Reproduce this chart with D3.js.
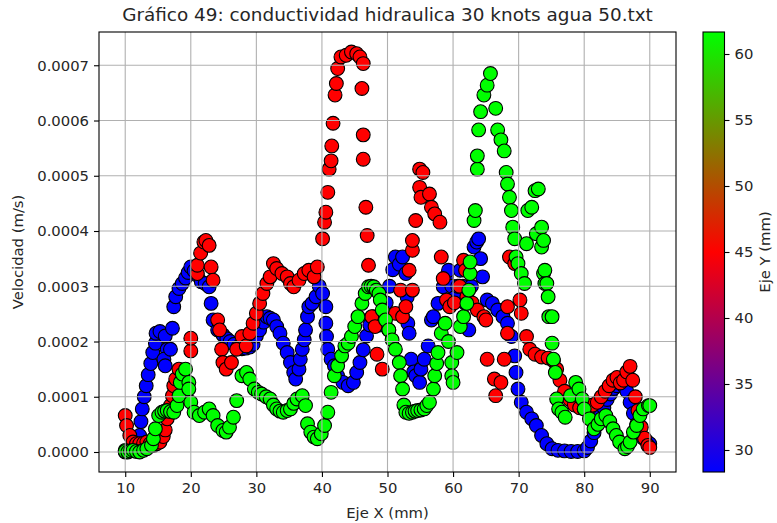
<!DOCTYPE html>
<html>
<head>
<meta charset="utf-8">
<script src="https://cdn.jsdelivr.net/npm/d3@7"></script>
<style>
  body { margin: 0; background: #fff; }
  text { font-family: "DejaVu Sans", sans-serif; fill: #262626; }
</style>
</head>
<body>
<div id="chart"></div>
<script>
"use strict";

/* ── Data: [Eje X (mm), velocidad in 1e-4 m/s] per Eje Y level ── */
const ejeY = [28.333, 45.0, 61.667];

const puntosAzul = [
  [10.0,0.0],[10.5,0.02],[11.0,0.03],[11.5,0.06],[12.0,0.12],[12.2,0.3],[12.4,0.55],[12.6,0.78],
  [12.9,1.0],[13.2,1.2],[13.5,1.4],[13.9,1.6],[14.2,1.8],[14.6,1.97],[14.7,2.15],[15.3,2.18],
  [16.1,2.1],[16.4,1.86],[15.9,1.68],[16.1,1.56],[16.9,1.86],[17.2,2.24],[17.4,2.63],[17.7,2.81],
  [18.2,2.96],[18.7,3.05],[19.2,3.15],[19.6,3.25],[20.0,3.35],[20.5,3.28],[21.0,3.2],[21.6,3.08],
  [22.2,3.05],[22.8,2.99],[23.1,2.69],[23.4,2.39],[24.1,2.21],[24.9,2.12],[25.5,2.05],[26.0,2.0],
  [26.6,1.95],[27.2,1.9],[27.8,1.87],[28.4,1.88],[29.0,1.9],[29.5,1.95],[30.0,2.1],[30.5,2.21],
  [31.1,2.35],[31.6,2.45],[32.1,2.42],[32.6,2.39],[33.1,2.27],[33.6,2.15],[34.1,1.97],[34.7,1.8],
  [35.2,1.62],[35.7,1.44],[36.0,1.32],[36.5,1.5],[36.7,1.68],[37.0,1.86],[37.3,2.03],[37.5,2.21],
  [37.8,2.45],[38.0,2.63],[38.5,2.69],[39.1,2.81],[39.6,3.0],[40.1,2.87],[40.6,2.63],[40.6,2.33],
  [40.7,2.09],[40.9,1.86],[41.4,1.68],[41.9,1.56],[42.4,1.38],[43.2,1.26],[44.0,1.2],[44.8,1.26],
  [45.3,1.44],[45.8,1.62],[46.3,1.85],[46.8,2.1],[47.3,2.3],[47.8,2.45],[48.3,2.4],[48.8,2.3],
  [49.3,2.4],[49.8,2.7],[50.3,3.0],[50.8,3.3],[51.2,3.53],[51.8,3.4],[52.3,3.53],[52.8,3.23],
  [53.0,2.8],[53.1,2.33],[53.3,2.15],[53.6,1.68],[54.0,1.45],[54.3,1.38],[54.9,1.26],[55.1,1.5],
  [55.6,1.68],[56.2,1.92],[56.7,2.39],[57.0,2.45],[57.7,2.69],[58.5,2.99],[59.0,3.17],[59.3,3.29],
  [59.8,3.0],[60.3,2.8],[60.7,3.0],[61.1,3.29],[61.5,3.0],[61.9,2.69],[62.4,2.21],[62.8,3.0],
  [63.2,3.71],[63.6,3.8],[63.9,3.86],[64.2,3.5],[64.5,3.17],[65.2,2.75],[66.0,2.69],[66.8,2.57],
  [67.6,2.45],[68.3,2.33],[68.9,2.09],[69.4,1.74],[69.6,1.44],[69.9,1.14],[70.4,0.9],[71.2,0.72],
  [72.0,0.6],[72.7,0.48],[73.5,0.3],[74.3,0.15],[75.1,0.06],[76.0,0.03],[77.0,0.02],[78.0,0.01],
  [79.0,0.01],[80.0,0.02],[80.5,0.08],[81.0,0.2],[81.5,0.35],[82.0,0.5],[82.5,0.65],[83.0,0.8],
  [83.5,0.95],[84.0,1.05],[84.5,1.15],[85.0,1.2],[85.5,1.25],[86.0,1.2],[86.5,1.1],[87.0,0.9],
  [87.5,0.7],[88.0,0.5],[88.5,0.35],[89.0,0.25],[89.5,0.2],[90.0,0.15]
];

const puntosRojo = [
  [10.0,0.66],[10.2,0.48],[10.7,0.3],[11.2,0.18],[11.7,0.15],[12.2,0.15],[12.8,0.16],[13.3,0.18],
  [13.8,0.15],[14.3,0.12],[14.8,0.15],[15.3,0.18],[15.8,0.28],[16.1,0.4],[16.4,0.6],[16.9,0.84],
  [17.2,1.02],[17.4,1.2],[17.7,1.32],[18.2,1.5],[20.0,1.83],[20.0,2.06],[21.0,3.23],[21.0,3.38],
  [21.5,3.6],[22.0,3.8],[22.3,3.83],[22.8,3.74],[23.1,3.35],[23.4,3.11],[24.1,2.39],[24.4,2.21],
  [24.7,1.86],[24.9,1.62],[25.4,1.5],[26.2,1.62],[27.0,1.86],[27.8,2.09],[28.45,1.92],[29.0,2.15],
  [29.5,2.33],[30.0,2.51],[30.5,2.69],[31.0,2.87],[31.6,3.05],[32.1,3.17],[32.6,3.41],[33.1,3.32],
  [33.9,3.23],[34.7,3.17],[35.2,3.05],[35.7,2.99],[36.5,3.11],[37.3,3.23],[38.0,3.29],[38.8,3.17],
  [39.3,3.35],[40.1,3.86],[40.4,4.16],[40.6,4.34],[40.9,4.7],[41.1,5.12],[41.4,5.27],[41.5,5.54],
  [41.7,5.95],[42.0,6.46],[42.2,6.67],[42.4,6.94],[42.9,7.15],[43.7,7.18],[44.5,7.24],[45.3,7.21],
  [45.8,7.15],[46.3,7.03],[46.1,6.58],[46.3,5.74],[46.3,5.3],[46.7,4.43],[46.9,3.92],[47.1,3.38],
  [47.6,2.45],[48.1,2.27],[48.4,1.77],[49.2,1.5],[50.2,2.21],[51.2,2.51],[52.0,2.93],[52.3,2.45],
  [52.8,2.63],[53.3,3.29],[53.8,2.93],[53.8,3.65],[53.8,3.83],[54.3,4.19],[54.9,4.79],[54.9,5.12],
  [55.1,4.61],[55.4,5.06],[56.4,4.67],[56.7,4.43],[57.2,4.31],[58.0,4.16],[58.2,3.53],[58.5,3.14],
  [59.0,2.75],[59.5,2.63],[60.2,2.7],[61.0,3.0],[61.6,3.47],[61.9,3.29],[62.1,2.81],[62.9,2.7],
  [63.7,2.57],[64.7,2.45],[65.0,2.39],[65.2,1.68],[66.3,1.32],[66.5,1.02],[67.3,1.26],[67.8,1.68],
  [68.3,2.15],[68.3,2.63],[68.6,3.53],[69.4,3.41],[70.2,2.75],[70.4,2.51],[71.2,2.09],[71.7,1.86],
  [72.5,1.77],[73.5,1.72],[74.5,1.7],[75.3,1.65],[75.8,1.5],[76.3,1.3],[77.0,1.1],[77.8,0.95],
  [78.5,0.85],[79.3,0.8],[80.0,0.78],[80.7,0.8],[81.3,0.85],[82.0,0.9],[82.6,1.0],[83.2,1.1],
  [83.8,1.2],[84.4,1.3],[85.0,1.35],[85.5,1.25],[86.0,1.3],[86.5,1.45],[87.0,1.55],[87.4,1.3],
  [87.8,1.0],[88.2,0.75],[88.7,0.45],[89.2,0.25],[89.7,0.12],[90.0,0.08]
];

const puntosVerde = [
  [10.0,0.03],[10.0,0.01],[10.4,0.0],[10.8,0.02],[11.2,0.03],[11.7,0.01],[12.2,0.0],[12.8,0.03],
  [13.3,0.06],[14.0,0.12],[14.3,0.24],[14.6,0.42],[15.1,0.66],[15.6,0.72],[16.0,0.74],[16.4,0.75],
  [16.9,0.73],[17.4,0.72],[17.9,0.84],[18.2,1.02],[18.4,1.26],[18.7,1.41],[19.2,1.5],[19.7,1.26],
  [19.7,1.14],[20.0,0.9],[20.5,0.72],[21.3,0.66],[22.1,0.72],[22.8,0.78],[23.4,0.66],[24.1,0.48],
  [24.9,0.39],[25.4,0.36],[25.9,0.45],[26.5,0.63],[27.0,0.93],[27.8,1.38],[28.5,1.44],[29.0,1.32],
  [29.7,1.14],[30.3,1.08],[30.8,1.05],[31.5,1.0],[32.1,0.96],[32.6,0.85],[33.1,0.78],[33.6,0.74],
  [34.1,0.72],[34.7,0.75],[35.2,0.78],[35.7,0.88],[36.2,0.96],[37.0,1.02],[37.5,0.84],[37.8,0.51],
  [38.3,0.36],[38.8,0.27],[39.3,0.24],[39.9,0.33],[40.4,0.48],[40.9,0.72],[41.4,1.08],[41.9,1.38],
  [42.4,1.56],[43.0,1.74],[43.5,1.92],[44.0,1.97],[44.5,2.09],[45.0,2.27],[45.5,2.45],[46.1,2.69],
  [46.6,2.87],[47.1,2.99],[47.5,3.0],[47.9,2.99],[48.3,2.93],[48.7,2.87],[48.9,2.75],[49.2,2.57],
  [49.7,2.39],[50.2,2.21],[50.7,2.03],[51.2,1.86],[51.8,1.62],[52.0,1.38],[52.3,1.14],[52.5,0.85],
  [52.8,0.72],[53.3,0.7],[53.8,0.72],[54.2,0.74],[54.6,0.75],[55.1,0.76],[55.6,0.78],[56.0,0.84],
  [56.4,0.9],[57.0,1.14],[57.2,1.38],[57.5,1.6],[57.7,1.8],[58.2,2.15],[58.8,2.33],[59.3,2.0],
  [59.8,1.62],[59.8,1.38],[60.0,1.26],[60.6,1.8],[61.1,2.27],[61.6,2.45],[62.1,2.69],[62.4,2.93],
  [62.6,3.23],[62.6,3.44],[63.2,4.19],[63.4,4.37],[63.7,5.12],[63.7,5.36],[63.9,5.83],[64.2,6.16],
  [64.7,6.46],[65.2,6.64],[65.7,6.85],[66.5,6.22],[66.8,5.83],[67.3,5.65],[67.8,5.45],[68.1,5.06],
  [68.3,4.85],[68.6,4.61],[68.9,4.37],[69.1,4.07],[69.4,3.86],[69.6,3.53],[69.9,3.41],[70.4,3.23],
  [70.9,3.05],[71.2,3.77],[71.4,4.37],[72.0,4.43],[72.5,4.73],[73.0,4.76],[72.7,3.95],[73.5,3.71],
  [73.8,3.23],[74.0,3.05],[74.6,2.45],[73.5,4.07],[73.8,3.83],[74.0,3.29],[74.3,3.05],[74.5,2.81],
  [75.1,2.45],[75.1,1.97],[75.3,1.68],[75.6,1.44],[75.8,0.96],[76.1,0.78],[76.6,0.72],[77.1,0.63],
  [77.9,1.02],[78.7,1.26],[79.2,1.14],[79.7,0.96],[80.0,0.78],[80.8,0.6],[81.5,0.42],[82.1,0.5],
  [82.6,0.6],[83.3,0.66],[83.9,0.55],[84.4,0.42],[84.9,0.3],[85.4,0.18],[86.2,0.06],[86.6,0.1],
  [87.0,0.18],[87.5,0.36],[88.0,0.48],[88.5,0.66],[89.0,0.78],[89.8,0.84],[90.0,0.84]
];

const xTicks  = [10, 20, 30, 40, 50, 60, 70, 80, 90];
const yTicks  = [0, 0.0001, 0.0002, 0.0003, 0.0004, 0.0005, 0.0006, 0.0007];
const cbTicks = [30, 35, 40, 45, 50, 55, 60];

const titulo = "Gráfico 49: conductividad hidraulica 30 knots agua 50.txt";

/* ── Build rows ── */
const rows = [];
[puntosAzul, puntosRojo, puntosVerde].forEach((serie, i) => {
  serie.forEach(([x, v]) => rows.push({ x, v: v * 1e-4, y: ejeY[i] }));
});

/* ── Dimensions ── */
const W = 777, H = 523;
const plot = { left: 99, right: 676, top: 32, bottom: 472 };
const cb   = { left: 703, width: 21.5 };
const FS   = 14.8;
const TK   = 5;

const svg = d3.select("#chart").append("svg")
  .attr("width", W).attr("height", H);

/* ── Scales (5% margins like matplotlib) ── */
const pad = (ext) => { const m = (ext[1] - ext[0]) * 0.05; return [ext[0] - m, ext[1] + m]; };
const x = d3.scaleLinear(pad(d3.extent(rows, d => d.x)), [plot.left, plot.right]);
const y = d3.scaleLinear(pad(d3.extent(rows, d => d.v)), [plot.bottom, plot.top]);

const yExt = d3.extent(ejeY);
const colour = d3.scaleLinear()
  .domain([yExt[0], (yExt[0] + yExt[1]) / 2, yExt[1]])
  .range(["#0000ff", "#ff0000", "#00ff00"]);
const cbScale = d3.scaleLinear(yExt, [plot.bottom, plot.top]);

/* ── Points ── */
svg.append("g")
  .selectAll("circle")
  .data(rows)
  .join("circle")
  .attr("cx", d => x(d.x))
  .attr("cy", d => y(d.v))
  .attr("r", 6.9)
  .attr("fill", d => colour(d.y))
  .attr("stroke", "#000")
  .attr("stroke-width", 1.1);

/* ── Grid (matplotlib draws it over the scatter) ── */
const grid = svg.append("g").attr("stroke", "#b0b0b0").attr("stroke-width", 1.1);
grid.selectAll("line.gx").data(xTicks).join("line")
  .attr("x1", d => x(d)).attr("x2", d => x(d))
  .attr("y1", plot.top).attr("y2", plot.bottom);
grid.selectAll("line.gy").data(yTicks).join("line")
  .attr("y1", d => y(d)).attr("y2", d => y(d))
  .attr("x1", plot.left).attr("x2", plot.right);

/* ── Axes ── */
const xAxis = svg.append("g")
  .attr("transform", `translate(0,${plot.bottom})`)
  .call(d3.axisBottom(x).tickValues(xTicks).tickFormat(d3.format("d"))
    .tickSize(TK).tickPadding(TK));
const yAxis = svg.append("g")
  .attr("transform", `translate(${plot.left},0)`)
  .call(d3.axisLeft(y).tickValues(yTicks).tickFormat(d3.format(".4f"))
    .tickSize(TK).tickPadding(TK));

[xAxis, yAxis].forEach(g => {
  g.select(".domain").remove();
  g.selectAll("line").attr("stroke", "#000").attr("stroke-width", 1.1);
  g.selectAll("text").attr("font-size", FS).attr("font-family", "DejaVu Sans").attr("fill", "#262626");
});

svg.append("rect")
  .attr("x", plot.left).attr("y", plot.top)
  .attr("width", plot.right - plot.left).attr("height", plot.bottom - plot.top)
  .attr("fill", "none").attr("stroke", "#000").attr("stroke-width", 1.1);

/* ── Labels ── */
svg.append("text")
  .attr("x", (plot.left + plot.right) / 2).attr("y", 21)
  .attr("text-anchor", "middle").attr("font-size", 18.4)
  .text(titulo);

svg.append("text")
  .attr("x", (plot.left + plot.right) / 2).attr("y", 518)
  .attr("text-anchor", "middle").attr("font-size", FS)
  .text("Eje X (mm)");

svg.append("text")
  .attr("transform", `translate(23,${(plot.top + plot.bottom) / 2}) rotate(-90)`)
  .attr("text-anchor", "middle").attr("font-size", FS)
  .text("Velocidad (m/s)");

/* ── Colorbar ── */
const grad = svg.append("defs").append("linearGradient")
  .attr("id", "brg").attr("x1", 0).attr("y1", 1).attr("x2", 0).attr("y2", 0);
grad.selectAll("stop")
  .data(colour.domain())
  .join("stop")
  .attr("offset", d => (d - yExt[0]) / (yExt[1] - yExt[0]))
  .attr("stop-color", d => colour(d));

svg.append("rect")
  .attr("x", cb.left).attr("y", plot.top)
  .attr("width", cb.width).attr("height", plot.bottom - plot.top)
  .attr("fill", "url(#brg)").attr("stroke", "#000").attr("stroke-width", 1.1);

const cbAxis = svg.append("g")
  .attr("transform", `translate(${cb.left + cb.width},0)`)
  .call(d3.axisRight(cbScale).tickValues(cbTicks).tickFormat(d3.format("d"))
    .tickSize(TK).tickPadding(TK));
cbAxis.select(".domain").remove();
cbAxis.selectAll("line").attr("stroke", "#000").attr("stroke-width", 1.1);
cbAxis.selectAll("text").attr("font-size", FS).attr("font-family", "DejaVu Sans").attr("fill", "#262626");

svg.append("text")
  .attr("transform", `translate(770,${(plot.top + plot.bottom) / 2}) rotate(-90)`)
  .attr("text-anchor", "middle").attr("font-size", FS)
  .text("Eje Y (mm)");
</script>
</body>
</html>
